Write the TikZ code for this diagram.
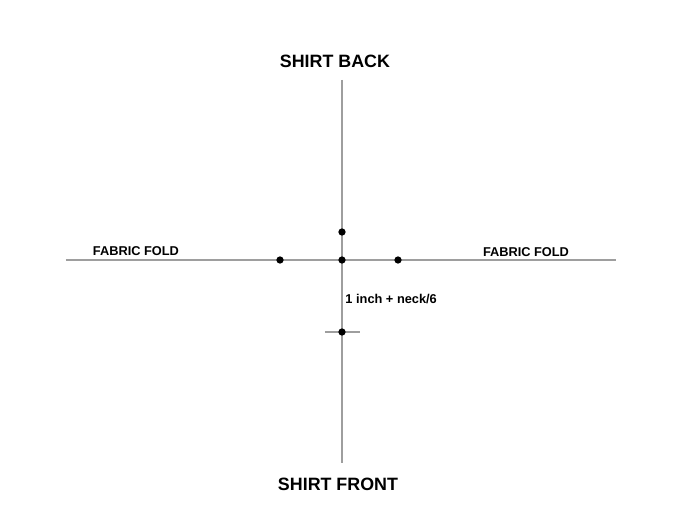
\documentclass[tikz,border=0pt]{standalone}
\usepackage{fontspec}
\setmainfont{Liberation Sans}
\usepackage{xcolor}
\definecolor{linegray}{gray}{0.62}

\begin{document}
\begin{tikzpicture}[
  guide/.style={draw=linegray, line width=1.1pt},
  tag/.style={inner sep=0pt, font=\bfseries\fontsize{9.1}{10}\selectfont},
  title/.style={inner sep=0pt, font=\bfseries\fontsize{12.7}{14}\selectfont}]
 \useasboundingbox (-8.55,-6.425) rectangle (8.725,6.5);

 \coordinate (o) at (0,0);
 \coordinate (top) at (0,4.5);
 \coordinate (bot) at (0,-5.075);
 \coordinate (lft) at (-6.9,0);
 \coordinate (rgt) at (6.85,0);

\coordinate (p1) at (0,0.7);
\coordinate (p2) at (-1.55,0);
\coordinate (p3) at (1.4,0);
\coordinate (p4) at (0,-1.8);

\coordinate (t1) at (-0.425,-1.8);
\coordinate (t2) at (0.45,-1.8);

\draw[guide] (top)--(bot);
\draw[guide] (lft)--(rgt);
\draw[guide] (t1)--(t2);

\fill (o) circle (2.6pt);
\fill (p1) circle (2.6pt);
\fill (p2) circle (2.6pt);
\fill (p3) circle (2.6pt);
\fill (p4) circle (2.6pt);

\node [title, anchor=base] (back) at (-0.175,4.825) {SHIRT BACK};
\node [title, anchor=base] (front) at (-0.1,-5.75) {SHIRT FRONT};
\node [tag, anchor=base] (foldl) at (-5.15,0.1) {FABRIC FOLD};
\node [tag, anchor=base] (foldr) at (4.6,0.08) {FABRIC FOLD};
\node [tag, anchor=base west] (neck) at (0.08,-1.075) {1 inch + neck/6};

\end{tikzpicture}
\end{document}
